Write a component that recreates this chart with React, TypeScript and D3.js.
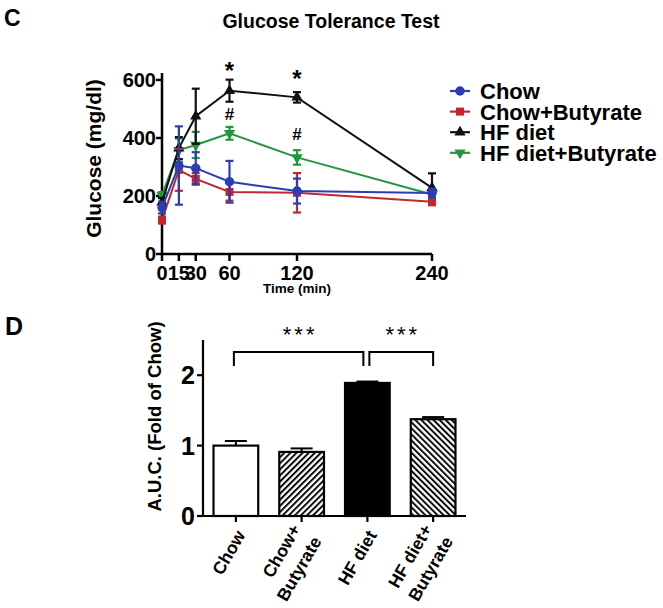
import React from "react";
import * as d3 from "d3";

// panel C: glucose tolerance test
const times = [0, 15, 30, 60, 120, 240];
const seriesNames = ["Chow", "Chow+Butyrate", "HF diet", "HF diet+Butyrate"];
const chowMean = [160, 305, 296, 249, 217, 210];
const chowErr = [20, 135, 55, 72, 43, 15];
const chowButMean = [117, 290, 259, 214, 211, 180];
const chowButErr = [12, 72, 20, 30, 68, 12];
const hfMean = [178, 365, 475, 563, 540, 228];
const hfErr = [15, 38, 95, 38, 18, 50];
const hfButMean = [203, 358, 376, 416, 333, 205];
const hfButErr = [10, 40, 45, 22, 25, 10];
const glucoseTicks = [0, 200, 400, 600];

const annotTimes = [60, 120, 60, 120];
const annotLabels = ["*", "*", "#", "#"];
const annotValues = [605, 576, 462, 393];

// panel D: area under curve
const aucGroups = ["Chow", "Chow+Butyrate", "HF diet", "HF diet+Butyrate"];
const aucLabels = [["Chow"], ["Chow+", "Butyrate"], ["HF diet"], ["HF diet+", "Butyrate"]];
const aucMean = [1.0, 0.91, 1.89, 1.375];
const aucErr = [0.065, 0.05, 0.02, 0.03];
const aucTicks = [0, 1, 2];
const bracketFrom = [0, 2];
const bracketTo = [2, 3];
const bracketText = ["***", "***"];

const FONT = "'Liberation Sans', Arial, Helvetica, sans-serif";
const colors = ["#2b3db4", "#c1272d", "#111111", "#22963e"];
const symbols = [d3.symbolCircle, d3.symbolSquare, d3.symbolTriangle, d3.symbolTriangle];
const symSizes = [70, 64, 55, 55];

export default function App() {
  const x = d3.scaleLinear().domain([0, 240]).range([162, 432]);
  const y = d3.scaleLinear().domain([0, 624]).range([254, 73]);

  const series = [
    { mean: chowMean, err: chowErr },
    { mean: chowButMean, err: chowButErr },
    { mean: hfMean, err: hfErr },
    { mean: hfButMean, err: hfButErr },
  ];
  const drawOrder = [3, 2, 1, 0];

  const line = d3.line<number>().x((_, i) => x(times[i])).y(d => y(d));

  const marker = (k: number) => d3.symbol(symbols[k], symSizes[k])();
  const markerRot = (k: number) => (k === 3 ? " rotate(180)" : "");

  const xb = d3.scaleBand().domain(aucGroups).range([203, 466]).paddingInner(0.32).paddingOuter(0.16);
  const yb = d3.scaleLinear().domain([0, 2.5]).range([516, 340]);
  const cx = (i: number) => xb(aucGroups[i])! + xb.bandwidth() / 2;
  const barFill = ["#fff", "url(#hatchUp)", "#000", "url(#hatchDown)"];

  return (
    <svg width={663} height={608} style={{ position: "absolute", left: 0, top: 0, background: "#fff" }} fontFamily={FONT}>
      <defs>
        <pattern id="hatchUp" patternUnits="userSpaceOnUse" width={4.3} height={4.3} patternTransform="rotate(45)">
          <rect width={4.3} height={4.3} fill="#fff" />
          <line x1={1} y1={0} x2={1} y2={4.3} stroke="#000" strokeWidth={1.9} />
        </pattern>
        <pattern id="hatchDown" patternUnits="userSpaceOnUse" width={4.3} height={4.3} patternTransform="rotate(-45)">
          <rect width={4.3} height={4.3} fill="#fff" />
          <line x1={1} y1={0} x2={1} y2={4.3} stroke="#000" strokeWidth={1.9} />
        </pattern>
      </defs>

      {/* panel letters */}
      <text x={4} y={26} fontSize={23} fontWeight="bold">C</text>
      <text x={5} y={335} fontSize={25} fontWeight="bold">D</text>

      {/* ---- panel C ---- */}
      <text x={331} y={28} fontSize={19.5} fontWeight="bold" textAnchor="middle">Glucose Tolerance Test</text>

      <g stroke="#000" strokeWidth={2.5} fill="none">
        <line x1={x(0)} y1={y(0)} x2={x(0)} y2={73} />
        <line x1={x(0)} y1={y(0)} x2={x(240)} y2={y(0)} />
        {glucoseTicks.map(t => <line key={t} x1={x(0) - 6} x2={x(0)} y1={y(t)} y2={y(t)} />)}
        {times.map(t => <line key={t} x1={x(t)} x2={x(t)} y1={y(0)} y2={y(0) + 7} />)}
      </g>
      {glucoseTicks.map(t => (
        <text key={t} x={x(0) - 6} y={y(t) + 7} fontSize={20} fontWeight="bold" textAnchor="end">{t}</text>
      ))}
      {times.map(t => (
        <text key={t} x={x(t)} y={280} fontSize={20} fontWeight="bold" textAnchor="middle">{t}</text>
      ))}
      <text x={297} y={293} fontSize={13.5} fontWeight="bold" textAnchor="middle">Time (min)</text>
      <text transform={`translate(101,${(y(0) + 73) / 2 - 5}) rotate(-90)`} fontSize={21} fontWeight="bold" textAnchor="middle">Glucose (mg/dl)</text>

      {drawOrder.map(k => {
        const s = series[k];
        return (
          <g key={k}>
            <path d={line(s.mean)!} fill="none" stroke={colors[k]} strokeWidth={2} />
            <g stroke={colors[k]} strokeWidth={2.2}>
              {s.mean.map((m, i) => (
                <g key={i}>
                  <line x1={x(times[i])} x2={x(times[i])} y1={y(m - s.err[i])} y2={y(m + s.err[i])} />
                  <line x1={x(times[i]) - 4} x2={x(times[i]) + 4} y1={y(m + s.err[i])} y2={y(m + s.err[i])} />
                  <line x1={x(times[i]) - 4} x2={x(times[i]) + 4} y1={y(m - s.err[i])} y2={y(m - s.err[i])} />
                </g>
              ))}
            </g>
            {s.mean.map((m, i) => (
              <path key={i} d={marker(k)!} transform={`translate(${x(times[i])},${y(m)})${markerRot(k)}`} fill={colors[k]} />
            ))}
          </g>
        );
      })}

      {annotLabels.map((l, i) => (
        <text key={i} x={x(annotTimes[i])} y={y(annotValues[i])} textAnchor="middle" fontWeight="bold"
          fontSize={l === "*" ? 24 : 17}>{l}</text>
      ))}

      {/* legend */}
      {seriesNames.map((n, k) => {
        const ly = 91 + k * 20.6;
        return (
          <g key={n}>
            <line x1={450} x2={470} y1={ly} y2={ly} stroke={colors[k]} strokeWidth={2.2} />
            <path d={marker(k)!} transform={`translate(460,${ly})${markerRot(k)}`} fill={colors[k]} />
            <text x={480} y={ly + 8} fontSize={22} fontWeight="bold">{n}</text>
          </g>
        );
      })}

      {/* ---- panel D ---- */}
      {aucMean.map((m, i) => (
        <g key={i}>
          <line x1={cx(i)} x2={cx(i)} y1={yb(m)} y2={yb(m + aucErr[i])} stroke="#000" strokeWidth={2} />
          <line x1={cx(i) - 11} x2={cx(i) + 11} y1={yb(m + aucErr[i])} y2={yb(m + aucErr[i])} stroke="#000" strokeWidth={2} />
          <rect x={xb(aucGroups[i])} y={yb(m)} width={xb.bandwidth()} height={yb(0) - yb(m)}
            fill={barFill[i]} stroke="#000" strokeWidth={2.2} />
        </g>
      ))}
      <g stroke="#000" strokeWidth={2.2} fill="none">
        <line x1={203} x2={203} y1={yb(0)} y2={yb(2.5)} />
        <line x1={203} x2={466} y1={yb(0)} y2={yb(0)} />
        {aucTicks.map(t => <line key={t} x1={197} x2={203} y1={yb(t)} y2={yb(t)} />)}
        {aucGroups.map((g, i) => <line key={g} x1={cx(i)} x2={cx(i)} y1={yb(0)} y2={yb(0) + 6} />)}
      </g>
      {aucTicks.map(t => (
        <text key={t} x={195} y={yb(t) + 9} fontSize={25} fontWeight="bold" textAnchor="end">{t}</text>
      ))}
      <text transform={`translate(160.5,416.5) rotate(-90)`} fontSize={18.5} fontWeight="bold" textAnchor="middle">A.U.C. (Fold of Chow)</text>
      {aucLabels.map((lines, i) => (
        <g key={i} transform={`translate(${cx(i) + 10},${yb(0) + 19}) rotate(-60)`}>
          {lines.map((l, j) => (
            <text key={j} x={0} y={(j - (lines.length - 1) / 2) * 24} fontSize={17.5} fontWeight="bold" textAnchor="end">{l}</text>
          ))}
        </g>
      ))}

      {bracketFrom.map((f, i) => {
        const x1 = i === 0 ? cx(f) - 2 : cx(f) + 2;
        const x2 = cx(bracketTo[i]) + (i === 0 ? -4 : 0);
        const top = yb(2.33);
        const bot = yb(2.13);
        return (
          <g key={i}>
            <path d={`M${x1},${bot}V${top}H${x2}V${bot}`} fill="none" stroke="#000" strokeWidth={2} />
            <text x={(x1 + x2) / 2 + 1.5} y={yb(2.47)} fontSize={22} textAnchor="middle" letterSpacing={3}>{bracketText[i]}</text>
          </g>
        );
      })}
    </svg>
  );
}
